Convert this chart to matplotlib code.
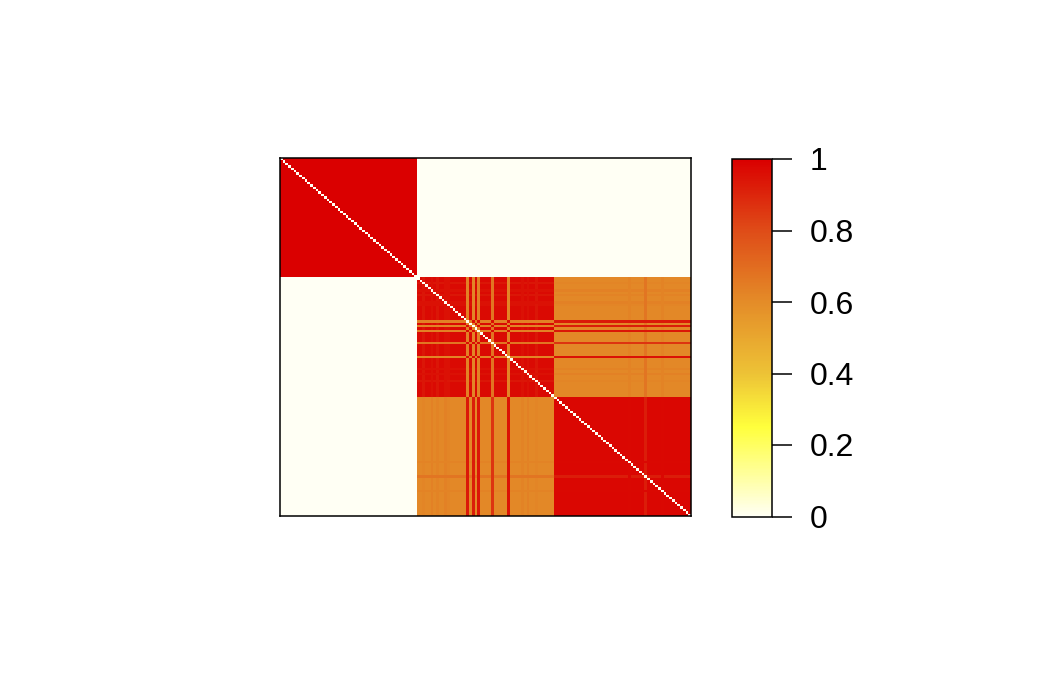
import numpy as np
import matplotlib
matplotlib.use("Agg")
import matplotlib.pyplot as plt
from matplotlib.colors import LinearSegmentedColormap
from matplotlib.ticker import FuncFormatter

# ---- data ----
group_sizes = [50, 50, 50]
block_values = [[1.00, 0.00, 0.00],
                [0.00, 0.97, 0.61],
                [0.00, 0.61, 0.98]]
# group-2 items that resemble group 3
outlier_idx = [68, 70, 72, 77, 83]
outlier_vs_g2 = [0.63, 0.62, 0.63, 0.67, 0.62]
outlier_vs_g3 = [0.93, 0.92, 0.94, 0.86, 0.95]
outlier_vs_outlier = 0.96
# group-3 items slightly resembling group 2
g3_odd_idx = [133, 127, 139]
g3_odd_vs_g2 = [0.67, 0.625, 0.625]
g3_odd_vs_g3 = [0.92, 0.975, 0.975]
# mild texture in group 2
g2_soft_idx = [52, 57, 61, 88, 93, 55, 60, 90]
g2_soft_vs_g2 = [0.94, 0.94, 0.95, 0.95, 0.94, 0.95, 0.95, 0.95]
g2_soft_vs_g3 = [0.62, 0.625, 0.62, 0.625, 0.62, 0.63, 0.63, 0.63]
diag_value = 0.0

cbar_ticks = [0, 0.2, 0.4, 0.6, 0.8, 1.0]
cmap_pos = [0.0, 0.1, 0.25, 0.4, 0.6, 0.8, 1.0]
cmap_cols = ["#FFFFF4", "#FFFFA8", "#FFFF3C", "#EDC236", "#E48C28", "#DF4C18", "#DA0000"]

# ---- build matrix ----
n = sum(group_sizes)
starts = np.cumsum([0] + group_sizes)
M = np.zeros((n, n))
for i in range(3):
    for j in range(3):
        M[starts[i]:starts[i+1], starts[j]:starts[j+1]] = block_values[i][j]
g2 = slice(starts[1], starts[2])
g3 = slice(starts[2], starts[3])
for k, v2, v3 in zip(g2_soft_idx, g2_soft_vs_g2, g2_soft_vs_g3):
    M[k, g2] = v2; M[g2, k] = v2
    M[k, g3] = v3; M[g3, k] = v3
for k, v2, v3 in zip(g3_odd_idx, g3_odd_vs_g2, g3_odd_vs_g3):
    M[k, g2] = v2; M[g2, k] = v2
    M[k, g3] = v3; M[g3, k] = v3
for k, v2, v3 in zip(outlier_idx, outlier_vs_g2, outlier_vs_g3):
    M[k, g2] = v2; M[g2, k] = v2
    M[k, g3] = v3; M[g3, k] = v3
for a in outlier_idx:
    for b in outlier_idx:
        M[a, b] = outlier_vs_outlier
np.fill_diagonal(M, diag_value)

cmap = LinearSegmentedColormap.from_list("heat", list(zip(cmap_pos, cmap_cols)), N=256)

# ---- plot ----
fig = plt.figure(figsize=(10.52, 6.77), dpi=100)
ax = fig.add_axes([280/1052, 1-516/677, 411/1052, 358/677])
im = ax.imshow(M, cmap=cmap, vmin=0, vmax=1, aspect="auto",
               interpolation="nearest")
ax.set_xticks([]); ax.set_yticks([])
for s in ax.spines.values():
    s.set_linewidth(1.1)

cax = fig.add_axes([732/1052, 1-516.5/677, 40/1052, 357.5/677])
cb = fig.colorbar(im, cax=cax)
cb.outline.set_linewidth(1.1)
cb.set_ticks(cbar_ticks)
cb.ax.yaxis.set_major_formatter(FuncFormatter(lambda v, p: f"{v:g}"))
cb.ax.tick_params(axis="y", length=14.4, width=1.1, pad=13,
                  labelsize=23)
for t in cb.ax.get_yticklabels():
    t.set_fontfamily(["Liberation Sans", "DejaVu Sans"])

fig.savefig("out.png", dpi=100)
